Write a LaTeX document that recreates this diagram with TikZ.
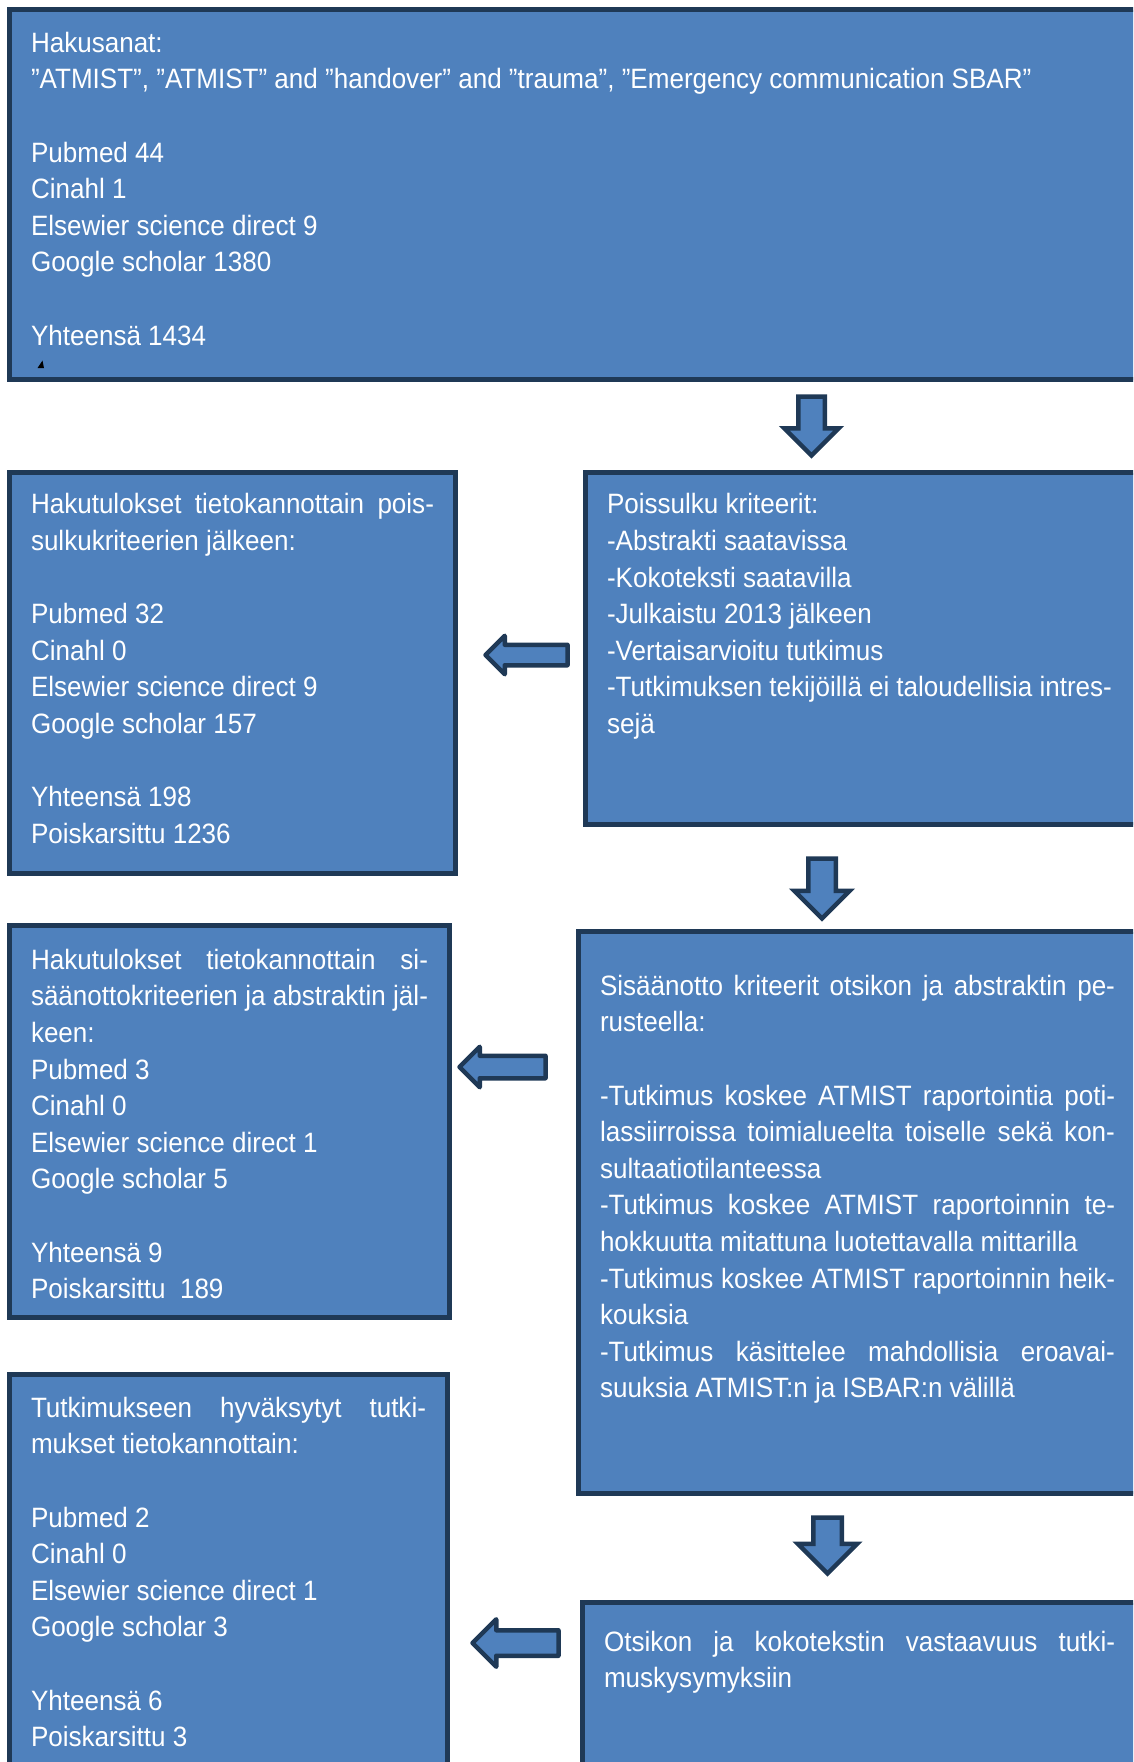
\documentclass[tikz,border=0pt]{standalone}
\usepackage{fontspec}
\setmainfont[FakeStretch=0.93]{Liberation Sans}
\usetikzlibrary{
  shapes.arrows,  % Shape "single arrow"
  positioning,
}
\definecolor{boxblue}{HTML}{4F81BD}
\definecolor{boxline}{HTML}{1F3956}
% justified line of a box
\newcommand{\jl}[1]{\makebox[\linewidth][s]{#1}}
% [extra right] {width} {height} {top offset} {text}
\newcommand{\boxtext}[5][0pt]{%
  \parbox[c][#3][t]{#2}{\vspace*{#4}#5}\hspace*{#1}}
\tikzset{
  flow box/.style={
    draw=boxline,
    fill=boxblue,
    line width=5pt,
    text=white,
    font=\fontsize{28pt}{36.6pt}\selectfont,
    inner xsep=21.5pt,
    inner ysep=0pt,
    outer sep=0pt,
    anchor=north west,
    rectangle
  },
  block arrow/.style={
    single arrow,
    draw=boxline,
    fill=boxblue,
    line width=4.5pt,
    inner xsep=0pt,
    outer sep=0pt,
    single arrow tip angle=90,
    anchor=tail
  },
  down arrow/.style={
    block arrow,
    rotate=-90
  },
  left arrow/.style={
    block arrow,
    line join=round,
    rotate=180
  }
}

\begin{document}
\begin{tikzpicture}[x=1pt,y=-1pt]
\useasboundingbox (0,0) rectangle (1133,1762);
\clip (0,0) rectangle (1133,1762);
% Search words
\node[flow box] (hits) at (9.5,9.5) {\boxtext{1092.5pt}{370pt}{22.5pt}{%
  Hakusanat:\\
  ”ATMIST”, ”ATMIST” and ”handover” and ”trauma”, ”Emergency communication SBAR”\\
  \mbox{}\\
  Pubmed 44\\
  Cinahl 1\\
  Elsewier science direct 9\\
  Google scholar 1380\\
  \mbox{}\\
  Yhteensä 1434}};
\fill[black] (37.5,368) -- (44,368) -- (42.5,360.5) -- cycle;
% Exclusion criteria
\node[flow box] (excl) at (585.5,472.5) {\boxtext[30pt]{505pt}{352pt}{21pt}{%
  Poissulku kriteerit:\\
  -Abstrakti saatavissa\\
  -Kokoteksti saatavilla\\
  -Julkaistu 2013 jälkeen\\
  -Vertaisarvioitu tutkimus\\
  \jl{-Tutkimuksen tekijöillä ei taloudellisia intres-}\\
  sejä}};
\node[flow box] (res1) at (9.5,472.5) {\boxtext{403pt}{401pt}{21pt}{%
  \jl{Hakutulokset tietokannottain pois-}\\
  sulkukriteerien jälkeen:\\
  \mbox{}\\
  Pubmed 32\\
  Cinahl 0\\
  Elsewier science direct 9\\
  Google scholar 157\\
  \mbox{}\\
  Yhteensä 198\\
  Poiskarsittu 1236}};
% Inclusion criteria
\node[flow box] (incl) at (578.5,931.5) {\boxtext[30pt]{515pt}{562pt}{43.5pt}{%
  \jl{Sisäänotto kriteerit otsikon ja abstraktin pe-}\\
  rusteella:\\
  \mbox{}\\
  \jl{-Tutkimus koskee ATMIST raportointia poti-}\\
  \jl{lassiirroissa toimialueelta toiselle sekä kon-}\\
  sultaatiotilanteessa\\
  \jl{-Tutkimus koskee ATMIST raportoinnin te-}\\
  hokkuutta mitattuna luotettavalla mittarilla\\
  \jl{-Tutkimus koskee ATMIST raportoinnin heik-}\\
  kouksia\\
  \jl{-Tutkimus käsittelee mahdollisia eroavai-}\\
  suuksia ATMIST:n ja ISBAR:n välillä}};
\node[flow box] (res2) at (9.5,925.5) {\boxtext{397pt}{392pt}{23.5pt}{%
  \jl{Hakutulokset tietokannottain si-}\\
  \jl{säänottokriteerien ja abstraktin jäl-}\\
  keen:\\
  Pubmed 3\\
  Cinahl 0\\
  Elsewier science direct 1\\
  Google scholar 5\\
  \mbox{}\\
  Yhteensä 9\\
  Poiskarsittu\ \ 189}};
% Full text
\node[flow box] (match) at (582.5,1602.5) {\boxtext[30pt]{511pt}{200pt}{28.5pt}{%
  \jl{Otsikon ja kokotekstin vastaavuus tutki-}\\
  muskysymyksiin}};
\node[flow box] (acc) at (9.5,1374.5) {\boxtext{395pt}{430pt}{22.5pt}{%
  \jl{Tutkimukseen hyväksytyt tutki-}\\
  mukset tietokannottain:\\
  \mbox{}\\
  Pubmed 2\\
  Cinahl 0\\
  Elsewier science direct 1\\
  Google scholar 3\\
  \mbox{}\\
  Yhteensä 6\\
  Poiskarsittu 3}};
% Arrows
\node[down arrow,minimum height=59pt,inner ysep=11pt,single arrow head extend=14pt]
  (d1) at (811.5,396.5) {};
\node[down arrow,minimum height=60pt,inner ysep=11.5pt,single arrow head extend=14pt]
  (d2) at (822,858.5) {};
\node[down arrow,minimum height=56pt,inner ysep=12pt,single arrow head extend=15.5pt]
  (d3) at (827.5,1517.5) {};
\node[left arrow,minimum height=82pt,inner ysep=8pt,single arrow head extend=9pt]
  (l1) at (567.5,655) {};
\node[left arrow,minimum height=86pt,inner ysep=9pt,single arrow head extend=9pt]
  (l2) at (545.5,1067) {};
\node[left arrow,minimum height=86pt,inner ysep=10.5pt,single arrow head extend=11pt]
  (l3) at (558.5,1643) {};
\end{tikzpicture}
\end{document}
